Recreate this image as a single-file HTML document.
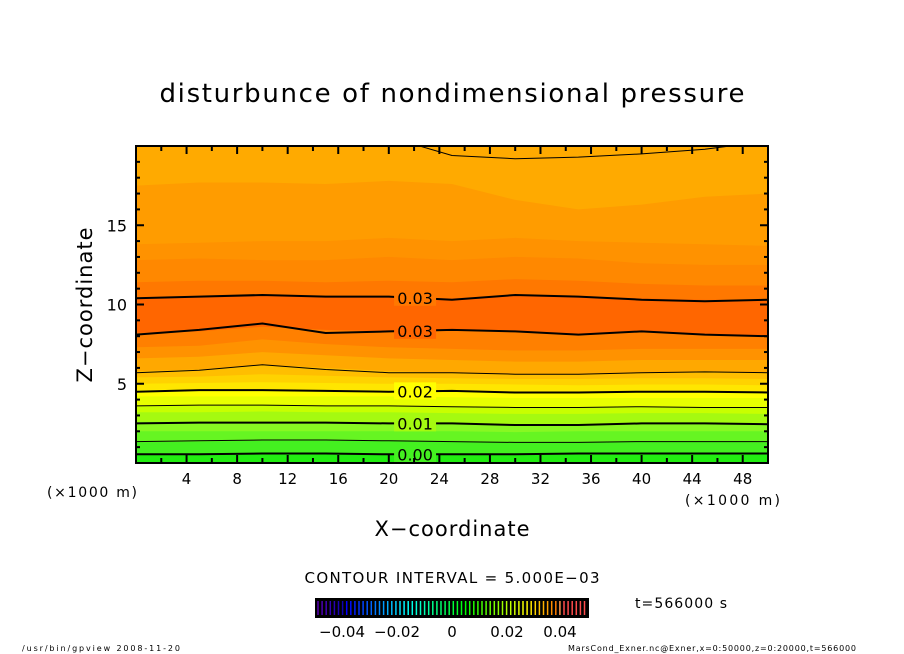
<!DOCTYPE html>
<html><head><meta charset="utf-8">
<style>
body{margin:0;background:#fff;}
svg{display:block;font-family:"DejaVu Sans","Liberation Sans",sans-serif;}
</style></head>
<body>
<svg id="chart" width="904" height="654" viewBox="0 0 904 654" xmlns="http://www.w3.org/2000/svg">
<rect width="904" height="654" fill="#fff"/>
<text x="452" y="102" text-anchor="middle" font-size="26" textLength="585" lengthAdjust="spacing">disturbunce of nondimensional pressure</text>
<defs><clipPath id="pc"><rect x="136" y="146" width="632" height="317"/></clipPath></defs>
<g id="plot" clip-path="url(#pc)"></g>
<g id="over"></g>
<rect x="136" y="146" width="632" height="317" fill="none" stroke="#000" stroke-width="2"/>
<g id="axes"></g>
<text x="47" y="497" font-size="14" textLength="90">(×1000 m)</text>
<text x="685" y="505" font-size="14" textLength="95">(×1000 m)</text>
<text x="452" y="536" text-anchor="middle" font-size="21" textLength="155">X−coordinate</text>
<text transform="translate(92,305) rotate(-90)" text-anchor="middle" font-size="21" textLength="155">Z−coordinate</text>
<text x="452" y="583" text-anchor="middle" font-size="15" textLength="295">CONTOUR INTERVAL = 5.000E−03</text>
<rect x="315" y="598" width="274" height="20" fill="#000"/>
<g id="cbar"></g>
<g font-size="15" text-anchor="middle">
<text x="342" y="637">−0.04</text>
<text x="397" y="637">−0.02</text>
<text x="452" y="637">0</text>
<text x="507" y="637">0.02</text>
<text x="560" y="637">0.04</text>
</g>
<text x="635" y="608" font-size="14" textLength="92">t=566000 s</text>
<text x="22" y="651" font-size="8" textLength="158">/usr/bin/gpview   2008-11-20</text>
<text x="568" y="651" font-size="8" textLength="288">MarsCond_Exner.nc@Exner,x=0:50000,z=0:20000,t=566000</text>
</svg>
<script>
const xs=[0,5,10,15,20,25,30,35,40,45,50];
const bandColors=["#22ee11","#44f020","#66f522","#88f822","#a5fa10","#c8ff00","#e8ff00","#ffff00","#ffe600","#ffd200","#ffbe00","#ffa800","#ff9200","#ff8000","#ff6600","#ff7800","#ff8800","#ff9200","#ff9c00","#ffaa00"];
const bandBottoms=[
[0,0,0,0,0,0,0,0,0,0,0],
[0.6,0.6,0.6,0.6,0.55,0.6,0.6,0.6,0.65,0.6,0.6],
[1.3,1.35,1.4,1.4,1.4,1.35,1.3,1.3,1.35,1.35,1.3],
[2.0,2.0,2.0,2.0,2.0,2.0,1.95,2.0,2.0,2.0,2.0],
[2.6,2.6,2.55,2.55,2.5,2.5,2.45,2.45,2.5,2.5,2.5],
[3.2,3.2,3.25,3.2,3.2,3.15,3.1,3.1,3.15,3.15,3.1],
[3.6,3.6,3.65,3.6,3.6,3.55,3.5,3.5,3.55,3.5,3.5],
[4.2,4.2,4.2,4.2,4.2,4.15,4.1,4.1,4.1,4.1,4.1],
[4.6,4.65,4.65,4.6,4.6,4.55,4.5,4.5,4.5,4.5,4.5],
[5.0,5.05,5.1,5.05,5.0,5.0,4.95,4.9,4.95,4.95,4.9],
[5.4,5.45,5.6,5.5,5.4,5.35,5.3,5.3,5.35,5.35,5.3],
[5.8,5.9,6.2,6.0,5.8,5.7,5.6,5.6,5.7,5.8,5.7],
[6.6,6.7,7.0,6.8,6.6,6.5,6.4,6.4,6.5,6.5,6.5],
[7.3,7.4,7.8,7.5,7.3,7.2,7.1,7.1,7.2,7.2,7.2],
[8.2,8.3,8.6,8.4,8.3,8.4,8.3,8.1,8.3,8.1,8.0],
[10.4,10.5,10.6,10.5,10.5,10.4,10.6,10.5,10.4,10.3,10.3],
[11.4,11.5,11.5,11.4,11.5,11.4,11.6,11.5,11.3,11.2,11.2],
[12.8,12.9,12.8,12.8,13.0,12.8,13.0,12.9,12.6,12.5,12.5],
[13.8,13.9,14.0,14.0,14.2,14.0,14.2,14.0,13.9,13.8,13.7],
[17.5,17.7,17.7,17.6,17.8,17.6,16.6,16.0,16.3,16.8,17.0]];
const contourLines=[
{w:2,label:"0.00",z:[0.55,0.55,0.6,0.6,0.55,0.55,0.55,0.6,0.6,0.6,0.6]},
{w:1,label:null,z:[1.35,1.4,1.45,1.45,1.4,1.35,1.3,1.3,1.35,1.35,1.35]},
{w:2,label:"0.01",z:[2.5,2.55,2.55,2.55,2.5,2.5,2.4,2.4,2.5,2.5,2.45]},
{w:1,label:null,z:[3.6,3.65,3.65,3.6,3.6,3.55,3.5,3.5,3.55,3.5,3.5]},
{w:2,label:"0.02",z:[4.5,4.6,4.6,4.55,4.5,4.55,4.45,4.45,4.5,4.5,4.45]},
{w:1,label:null,z:[5.7,5.85,6.2,5.9,5.7,5.7,5.6,5.6,5.7,5.75,5.7]},
{w:2,label:"0.03",z:[8.1,8.4,8.8,8.2,8.3,8.4,8.3,8.1,8.3,8.1,8.0]},
{w:2,label:"0.03",z:[10.4,10.5,10.6,10.5,10.5,10.3,10.6,10.5,10.3,10.2,10.3]}];
const topLineX=[22,25,30,35,40,45,48];
const topLineZ=[20.1,19.4,19.2,19.3,19.5,19.8,20.1];
const xTicks=[4,8,12,16,20,24,28,32,36,40,44,48];
const yTicks=[5,10,15];
const labelX=22;
const NS="http://www.w3.org/2000/svg";
const X=v=>136+v*632/50, Y=v=>463-v*317/20;
const plot=document.getElementById('plot'),over=document.getElementById('over'),axes=document.getElementById('axes');
function mk(t,a,p){const e=document.createElementNS(NS,t);for(const k in a)e.setAttribute(k,a[k]);p.appendChild(e);return e;}
function lineD(xa,za){return xa.map((x,i)=>(i?'L':'M')+X(x).toFixed(1)+' '+Y(za[i]).toFixed(1)).join(' ');}
bandBottoms.forEach((b,i)=>{
 const d=lineD(xs,b)+` L ${X(50)} ${Y(21)} L ${X(0)} ${Y(21)} Z`;
 const p=mk('path',{d:d,fill:bandColors[i]},plot);
 
 
});
function interp(z,x){for(let i=0;i<xs.length-1;i++){if(x>=xs[i]&&x<=xs[i+1]){const t=(x-xs[i])/(xs[i+1]-xs[i]);return z[i]+t*(z[i+1]-z[i]);}}return z[z.length-1];}
contourLines.forEach(c=>{
 const p=mk('path',{d:lineD(xs,c.z),fill:'none',stroke:'#000','stroke-width':c.w},plot);
 
 
 if(c.label){
  const zz=interp(c.z,labelX);
  const bi=bandBottoms.reduce((a,b,i)=>interp(b,labelX)<=zz+0.05?i:a,0);
  mk('rect',{x:X(labelX)-20,y:Y(zz)-9,width:42,height:17,fill:bandColors[bi]},over);
  const t=mk('text',{x:X(labelX)+1,y:Y(zz)+6,'text-anchor':'middle','font-size':16},over);
  
  
  t.textContent=c.label;
 }
});
const tl=mk('path',{d:lineD(topLineX,topLineZ),fill:'none',stroke:'#000','stroke-width':1},plot);


for(let v=2;v<50;v+=2){const L=v%4===0?8:5;
 mk('line',{x1:X(v),x2:X(v),y1:463,y2:463-L,stroke:'#000','stroke-width':2},axes);
 mk('line',{x1:X(v),x2:X(v),y1:146,y2:146+L,stroke:'#000','stroke-width':2},axes);}
for(let v=1;v<20;v++){const L=v%5===0?8:4;
 mk('line',{x1:136,x2:136+L,y1:Y(v),y2:Y(v),stroke:'#000','stroke-width':2},axes);
 mk('line',{x1:768,x2:768-L,y1:Y(v),y2:Y(v),stroke:'#000','stroke-width':2},axes);}
xTicks.forEach(v=>{const t=mk('text',{x:X(v),y:484,'text-anchor':'middle','font-size':15},axes);
 t.textContent=v;});
yTicks.forEach(v=>{const t=mk('text',{x:127,y:Y(v)+6,'text-anchor':'end','font-size':16},axes);
 t.textContent=v;});
const cb=document.getElementById('cbar');
for(let i=0;i<66;i++){const x=318+i*4.1;const f=i/65;
 let h=270-f*270; if(h<0)h+=360; const l=f<0.1?35:(f>0.9?65:50);
 mk('line',{x1:x,x2:x,y1:601,y2:615,stroke:`hsl(${f>0.92?0:h},100%,${l}%)`,'stroke-width':1.5},cb);}
</script>
</body></html>
